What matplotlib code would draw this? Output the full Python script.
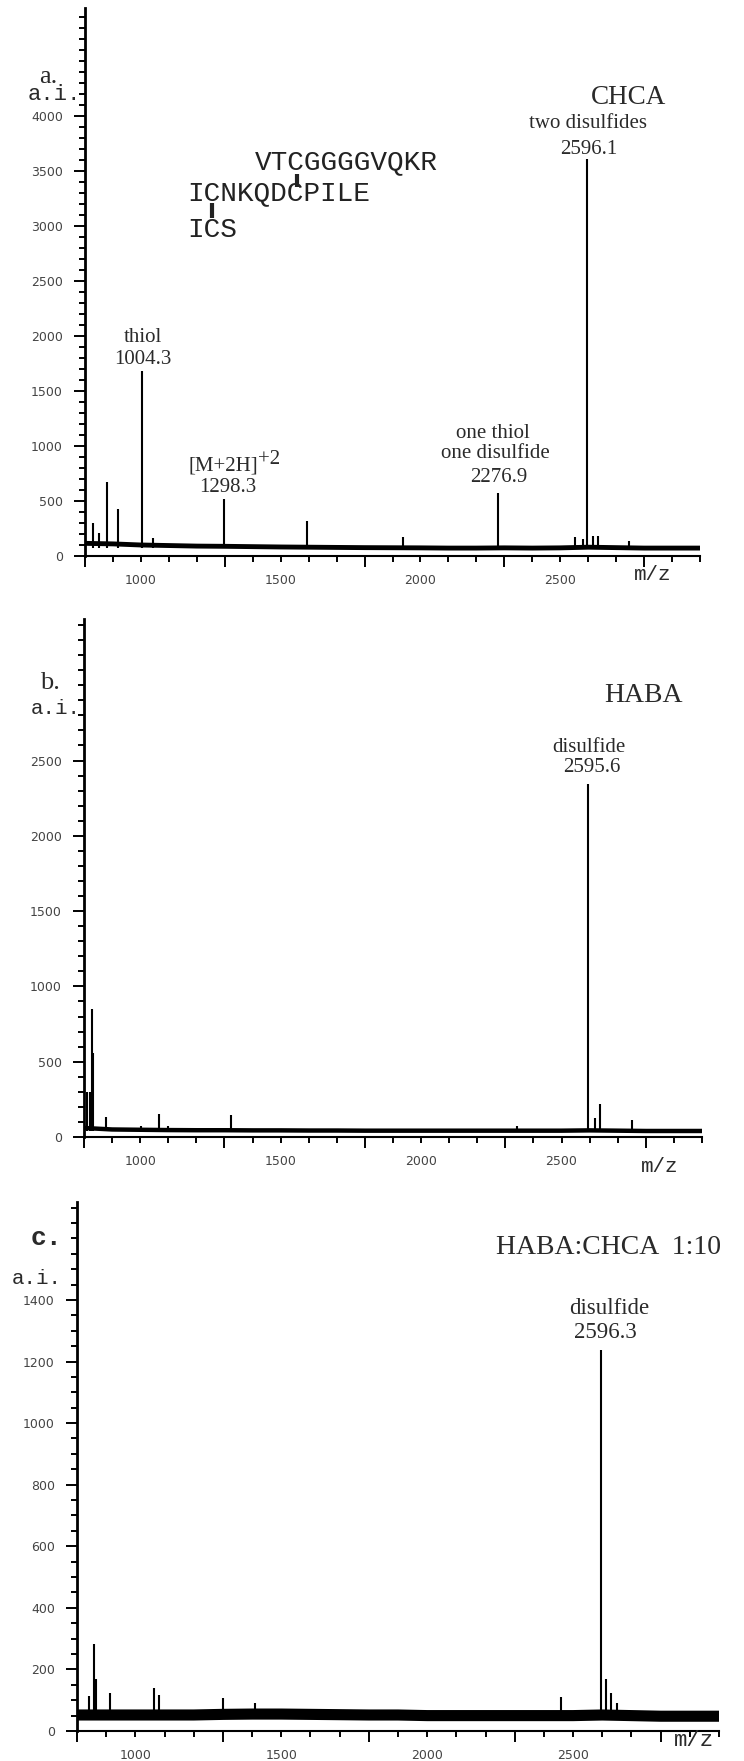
import numpy as np
import matplotlib
matplotlib.use("Agg")
import matplotlib.pyplot as plt
from matplotlib.lines import Line2D

# ---------------- data ----------------
# common baseline sampling (m/z)
base_mz = [800, 900, 1000, 1100, 1200, 1300, 1400, 1500, 1600, 1700, 1800, 1900,
           2000, 2100, 2200, 2300, 2400, 2500, 2600, 2700, 2800, 2900, 3000]

# panel a : CHCA
a_base = [115, 110, 100, 95, 90, 88, 85, 82, 80, 78, 76, 75,
          74, 72, 72, 74, 72, 74, 80, 76, 72, 72, 72]
a_mz = [830, 850, 880, 917, 1004.3, 1045, 1298.3, 1594, 1936, 2276.9,
        2552, 2580, 2596.1, 2617, 2636, 2745]
a_int = [300, 210, 670, 430, 1680, 160, 520, 320, 175, 575,
         175, 150, 3610, 185, 185, 140]

# panel b : HABA
b_base = [60, 50, 48, 46, 45, 45, 44, 44, 43, 43, 42, 42,
          42, 42, 42, 42, 42, 42, 44, 42, 40, 40, 40]
b_mz = [812, 822, 828, 833, 880, 1004, 1067, 1100, 1325, 2340,
        2595.6, 2618, 2636, 2750]
b_int = [300, 300, 850, 560, 135, 70, 155, 75, 145, 70,
         2345, 125, 220, 115]

# panel c : HABA:CHCA 1:10
c_base = [52, 52, 52, 52, 52, 54, 55, 55, 54, 53, 52, 52,
          50, 50, 50, 50, 50, 50, 52, 50, 48, 48, 48]
c_mz = [841, 859, 865, 913, 1064, 1080, 1300, 1410, 2458,
        2596.3, 2612, 2629, 2649]
c_int = [113, 283, 169, 123, 140, 117, 107, 90, 110,
         1237, 169, 123, 90]

xlabel_vals = [1000, 1500, 2000, 2500]
xlong_ticks = [800, 1300, 1800, 2300, 2800]

# ---------------- figure ----------------
W, H = 744, 1761
fig = plt.figure(figsize=(W / 100, H / 100), dpi=100)

SERIF = "Liberation Serif"
MONO = "Liberation Mono"
TXT = "#2a2a2a"


def rect(left, right, top, bottom):
    return [left / W, 1 - bottom / H, (right - left) / W, (bottom - top) / H]


def ftext(x, y, s, **kw):
    kw.setdefault("ha", "center")
    kw.setdefault("va", "center")
    kw.setdefault("color", TXT)
    fig.text(x / W, 1 - y / H, s, **kw)


def setup(ax, ymax, ylabmax, ymajor, yminor, base, band_lw, mz, inten, peak_base, xpad):
    ax.set_xlim(800, 3000)
    ax.set_ylim(0, ymax)
    for s in ("top", "right"):
        ax.spines[s].set_visible(False)
    ax.spines["left"].set_linewidth(2.0)
    ax.spines["bottom"].set_linewidth(1.5)
    # baseline noise band
    ax.plot(base_mz, base, color="black", lw=band_lw, solid_joinstyle="round")
    # peaks
    ax.vlines(mz, peak_base, inten, color="black", lw=1.5)
    # y ticks
    ax.set_yticks(np.arange(0, ylabmax + 1, ymajor))
    ax.set_yticks(np.arange(0, ymax + 1, yminor), minor=True)
    ax.tick_params(axis="y", which="major", length=8, width=1.4, pad=8,
                   labelsize=9, labelcolor="#444")
    ax.tick_params(axis="y", which="minor", length=4.5, width=1.4)
    for lab in ax.get_yticklabels():
        lab.set_family("DejaVu Sans")
    # x ticks (long marks offset from labels, like the original)
    ax.set_xticks(xlong_ticks)
    ax.set_xticks(np.arange(800, 3001, 100), minor=True)
    ax.tick_params(axis="x", which="major", length=8, width=1.4, labelbottom=False)
    ax.tick_params(axis="x", which="minor", length=4, width=1.4)
    sec = ax.secondary_xaxis("bottom")
    sec.set_xticks(xlabel_vals)
    sec.tick_params(length=0, pad=xpad, labelsize=9, labelcolor="#444")
    sec.spines["bottom"].set_visible(False)
    return ax


# ---------- panel a ----------
axa = fig.add_axes(rect(85, 700, 8, 556))
setup(axa, 4980, 4000, 500, 100, a_base, 3.5, a_mz, a_int, 70, 13)

# ---------- panel b ----------
axb = fig.add_axes(rect(84, 702, 619, 1137))
setup(axb, 3440, 2500, 500, 100, b_base, 3.2, b_mz, b_int, 40, 13)

# ---------- panel c ----------
axc = fig.add_axes(rect(77, 719, 1202, 1731))
setup(axc, 1718, 1400, 200, 50, c_base, 8, c_mz, c_int, 50, 13)

# ---------------- text ----------------
# panel a
ftext(48, 77, "a.", family=SERIF, fontsize=19)
ftext(54, 95, "a.i.", family=MONO, fontsize=16)
ftext(629, 97, "CHCA", family=SERIF, fontsize=19.5)
ftext(588, 123, "two disulfides", family=SERIF, fontsize=15)
ftext(589, 149, "2596.1", family=SERIF, fontsize=15)
ftext(143, 338, "thiol", family=SERIF, fontsize=15)
ftext(143, 360, "1004.3", family=SERIF, fontsize=15)
ftext(258, 466, "[M+2H]", family=SERIF, fontsize=15, ha="right")
ftext(258, 460, "+2", family=SERIF, fontsize=15, ha="left")
ftext(228, 488, "1298.3", family=SERIF, fontsize=15)
ftext(493, 433, "one thiol", family=SERIF, fontsize=15)
ftext(495, 454, "one disulfide", family=SERIF, fontsize=15)
ftext(499, 477, "2276.9", family=SERIF, fontsize=15)
ftext(653, 574, "m/z", family=MONO, fontsize=15)

# peptide with disulfide links
cw = 0.6 * 20 * 100 / 72  # Liberation Mono advance at 20 pt, px
pep = [("VTCGGGGVQKR", 255, 162), ("ICNKQDCPILE", 187, 193), ("ICS", 187, 230)]
for s, x0, y0 in pep:
    ftext(x0, y0, s, family=MONO, fontsize=20, ha="left", color="#222")
links = [(255 + 2.5 * cw, 174, 187), (187 + 1.5 * cw, 203, 218)]
for x, y1, y2 in links:
    fig.add_artist(Line2D([x / W, x / W], [1 - y1 / H, 1 - y2 / H],
                          transform=fig.transFigure, color="#222", lw=3,
                          solid_capstyle="butt"))

# panel b
ftext(50, 683, "b.", family=SERIF, fontsize=19)
ftext(56, 708, "a.i.", family=MONO, fontsize=15)
ftext(643, 695, "HABA", family=SERIF, fontsize=20)
ftext(589, 748, "disulfide", family=SERIF, fontsize=15)
ftext(592, 768, "2595.6", family=SERIF, fontsize=15)
ftext(660, 1166, "m/z", family=MONO, fontsize=15)

# panel c
ftext(46, 1238, "c.", family=MONO, fontsize=19, weight="bold")
ftext(37, 1278, "a.i.", family=MONO, fontsize=15)
ftext(609, 1247, "HABA:CHCA  1:10", family=SERIF, fontsize=20)
ftext(609, 1308, "disulfide", family=SERIF, fontsize=16.5)
ftext(605, 1333, "2596.3", family=SERIF, fontsize=16.5)
ftext(694, 1740, "m/z", family=MONO, fontsize=16)

fig.savefig("out.png", dpi=100)
